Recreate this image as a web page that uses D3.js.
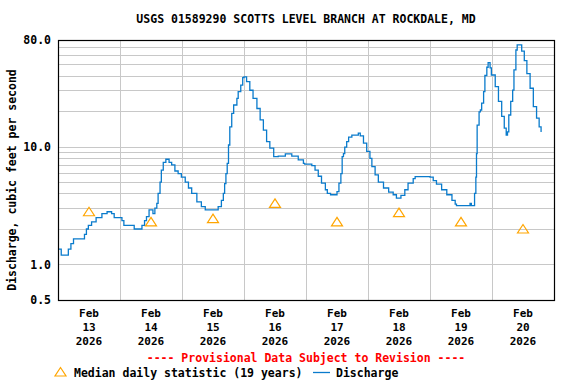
<!DOCTYPE html>
<html>
<head>
<meta charset="utf-8">
<script src="https://cdn.jsdelivr.net/npm/d3@7"></script>
<style>
  body { margin: 0; background: #fff; }
  svg { display: block; }
  text { font-family: "DejaVu Sans Mono", monospace; font-weight: bold; fill: #000; }
</style>
</head>
<body>
<svg id="chart" width="576" height="384"></svg>
<script>
"use strict";

const title = "USGS 01589290 SCOTTS LEVEL BRANCH AT ROCKDALE, MD";
const yTitle = "Discharge, cubic feet per second";

// 15-min discharge (cfs)
const flowTimes = [
  "02-13 00:00","02-13 01:15","02-13 04:00","02-13 05:00","02-13 06:00","02-13 10:15","02-13 11:00","02-13 11:45",
  "02-13 13:00","02-13 14:45","02-13 17:00","02-13 19:00","02-13 20:45","02-13 21:45","02-14 00:45","02-14 01:30",
  "02-14 05:30","02-14 08:30","02-14 09:30","02-14 10:15","02-14 11:15","02-14 12:45","02-14 13:30","02-14 14:15",
  "02-14 14:45","02-14 15:30","02-14 16:00","02-14 16:45","02-14 17:45","02-14 19:00","02-14 20:00","02-14 21:15",
  "02-14 22:30","02-14 23:45","02-15 01:15","02-15 02:30","02-15 03:45","02-15 05:45","02-15 07:30","02-15 09:00",
  "02-15 14:00","02-15 15:15","02-15 16:00","02-15 16:30","02-15 17:00","02-15 17:30","02-15 18:00","02-15 18:30",
  "02-15 19:15","02-15 20:00","02-15 21:15","02-15 21:45","02-15 22:45","02-15 23:30","02-16 00:00","02-16 01:00",
  "02-16 02:15","02-16 03:30","02-16 05:00","02-16 06:15","02-16 07:30","02-16 08:45","02-16 10:00","02-16 11:30",
  "02-16 13:15","02-16 16:00","02-16 18:30","02-16 21:00","02-16 23:00","02-16 23:30","02-17 02:15","02-17 03:30",
  "02-17 04:45","02-17 06:00","02-17 07:30","02-17 08:15","02-17 09:30","02-17 11:30","02-17 12:00","02-17 12:45",
  "02-17 13:30","02-17 14:00","02-17 14:30","02-17 15:00","02-17 15:45","02-17 16:30","02-17 17:45","02-17 19:30",
  "02-17 20:15","02-17 21:00","02-17 22:15","02-17 23:30","02-18 00:45","02-18 01:30","02-18 02:45","02-18 04:00",
  "02-18 06:00","02-18 08:00","02-18 09:45","02-18 11:00","02-18 12:45","02-18 14:15","02-18 15:30","02-18 17:30",
  "02-18 18:15","02-19 00:00","02-19 01:15","02-19 02:30","02-19 04:30","02-19 06:30","02-19 08:30","02-19 09:45",
  "02-19 10:15","02-19 15:30","02-19 16:00","02-19 17:15","02-19 17:45","02-19 18:00","02-19 18:15","02-19 19:00",
  "02-19 19:30","02-19 20:00","02-19 20:45","02-19 21:15","02-19 22:00","02-19 22:30","02-19 23:15","02-19 23:45",
  "02-20 01:15","02-20 02:30","02-20 03:45","02-20 04:45","02-20 05:30","02-20 06:00","02-20 06:30","02-20 07:15",
  "02-20 08:00","02-20 08:30","02-20 09:15","02-20 09:45","02-20 11:00","02-20 11:30","02-20 12:30","02-20 13:30",
  "02-20 14:45","02-20 16:00","02-20 17:15","02-20 18:15","02-20 19:00"
];
const flowValues = [
  1.35,1.2,1.35,1.5,1.65,1.8,2.0,2.15,
  2.3,2.5,2.7,2.8,2.7,2.5,2.35,2.15,
  2.0,2.15,2.35,2.55,2.9,2.7,3.0,3.3,
  4.0,5.0,6.3,7.35,7.8,7.35,7.0,6.2,
  5.9,5.5,5.0,4.45,4.0,3.4,3.1,2.9,
  3.1,3.5,4.0,4.85,5.9,7.2,10.3,14.7,
  19.1,22.5,25.6,29.2,33.2,38.4,39.0,35.5,
  30.0,25.6,21.0,16.8,13.8,11.0,9.7,8.2,
  8.3,8.65,8.3,7.7,7.2,7.1,6.9,6.3,
  5.6,4.9,4.3,4.0,3.9,3.9,4.15,4.9,
  5.9,8.2,8.7,9.9,11.0,12.0,12.5,12.5,
  13.0,12.3,10.7,9.1,7.95,6.75,5.75,5.0,
  4.45,4.1,3.9,3.65,3.85,4.3,4.9,5.35,
  5.55,5.5,5.15,4.8,4.3,3.9,3.5,3.25,
  3.15,3.3,3.15,4.0,5.5,8.7,15.2,19.7,
  20.4,23.3,29.2,40.0,47.0,51.5,46.5,40.4,
  32.2,24.1,18.0,14.3,12.5,13.3,18.5,24.1,
  30.1,44.6,65.8,72.6,72.6,64.5,53.4,41.5,
  31.2,21.8,17.4,14.7,13.3
];

// median daily statistic (19 years), plotted at noon
const medianDays = ["02-13","02-14","02-15","02-16","02-17","02-18","02-19","02-20"];
const medianValues = [2.8, 2.3, 2.45, 3.3, 2.3, 2.75, 2.3, 2.0];

const yTickValues = [80, 10, 1, 0.5];
const yGridValues = [1,2,3,4,5,6,7,8,9,10,20,30,40,50,60,70,80];

const parseTime = d3.timeParse("%Y-%m-%d %H:%M");
const flow = flowTimes.map((t, i) => ({t: parseTime("2026-" + t), v: flowValues[i]}));
const medians = medianDays.map((d, i) => ({t: parseTime("2026-" + d + " 12:00"), v: medianValues[i]}));

const svg = d3.select("#chart");
const margin = {left: 58, right: 22, top: 40, bottom: 84};
const W = 576, H = 384;

const x = d3.scaleTime()
  .domain([parseTime("2026-02-13 00:00"), parseTime("2026-02-21 00:00")])
  .range([margin.left, W - margin.right]);
const y = d3.scaleLog().domain([0.5, 80]).range([H - margin.bottom, margin.top]);

// grid
const grid = svg.append("g").attr("stroke", "#c8c8c8").attr("stroke-width", 1).attr("shape-rendering", "crispEdges");
grid.selectAll("line.h").data(yGridValues).join("line").attr("class", "h")
  .attr("x1", margin.left).attr("x2", W - margin.right)
  .attr("y1", d => Math.round(y(d)) + 0.5).attr("y2", d => Math.round(y(d)) + 0.5);
grid.selectAll("line.v").data(d3.timeDay.range(...x.domain()).slice(1)).join("line").attr("class", "v")
  .attr("y1", margin.top).attr("y2", H - margin.bottom)
  .attr("x1", d => Math.round(x(d)) + 0.5).attr("x2", d => Math.round(x(d)) + 0.5);

// discharge line
svg.append("path").datum(flow)
  .attr("fill", "none").attr("stroke", "#0a7bcc").attr("stroke-width", 1.3)
  .attr("d", d3.line().curve(d3.curveStepAfter).x(d => x(d.t)).y(d => y(d.v)));

// median triangles
const tri = "M0,-4.5L5.5,4L-5.5,4Z";
svg.append("g").selectAll("path").data(medians).join("path")
  .attr("d", tri).attr("fill", "none").attr("stroke", "#ffa500").attr("stroke-width", 1.2)
  .attr("transform", d => `translate(${x(d.t)},${y(d.v)})`);

// frame
svg.append("rect")
  .attr("x", margin.left + 0.5).attr("y", margin.top + 0.5)
  .attr("width", W - margin.left - margin.right).attr("height", H - margin.top - margin.bottom)
  .attr("fill", "none").attr("stroke", "#000").attr("stroke-width", 1.2);

// y axis labels
svg.append("g").selectAll("text").data(yTickValues).join("text")
  .attr("x", 51).attr("y", d => y(d)).attr("dy", "0.35em")
  .attr("text-anchor", "end").attr("font-size", 11.5)
  .text(d => d3.format(".1f")(d));

svg.append("text")
  .attr("transform", `translate(16,180) rotate(-90)`)
  .attr("text-anchor", "middle").attr("font-size", 11.5)
  .text(yTitle);

// x axis labels
const dayFmt = [d3.timeFormat("%b"), d3.timeFormat("%-d"), d3.timeFormat("%Y")];
const xLab = svg.append("g").selectAll("text").data(medians.map(d => d.t)).join("text")
  .attr("x", d => x(d)).attr("text-anchor", "middle").attr("font-size", 11);
xLab.each(function(d) {
  const t = d3.select(this);
  dayFmt.forEach((f, i) => {
    t.append("tspan").attr("x", x(d)).attr("y", 317 + i * 14).text(f(d));
  });
});

svg.append("text")
  .attr("x", (margin.left + W - margin.right) / 2).attr("y", 23)
  .attr("text-anchor", "middle").attr("font-size", 11.5)
  .text(title);

svg.append("text")
  .attr("x", 306).attr("y", 362)
  .attr("text-anchor", "middle").attr("font-size", 11.5)
  .style("fill", "#ff0000")
  .text("---- Provisional Data Subject to Revision ----");

// legend
const leg = svg.append("g");
leg.append("path").attr("d", tri).attr("fill", "none").attr("stroke", "#ffa500").attr("stroke-width", 1.2)
  .attr("transform", "translate(60.5,372)");
leg.append("text").attr("x", 74).attr("y", 377).attr("font-size", 11.5).text("Median daily statistic (19 years)");
leg.append("line").attr("x1", 313).attr("x2", 330).attr("y1", 372.5).attr("y2", 372.5)
  .attr("stroke", "#0a7bcc").attr("stroke-width", 1.3);
leg.append("text").attr("x", 336).attr("y", 377).attr("font-size", 11.5).text("Discharge");
</script>
</body>
</html>
